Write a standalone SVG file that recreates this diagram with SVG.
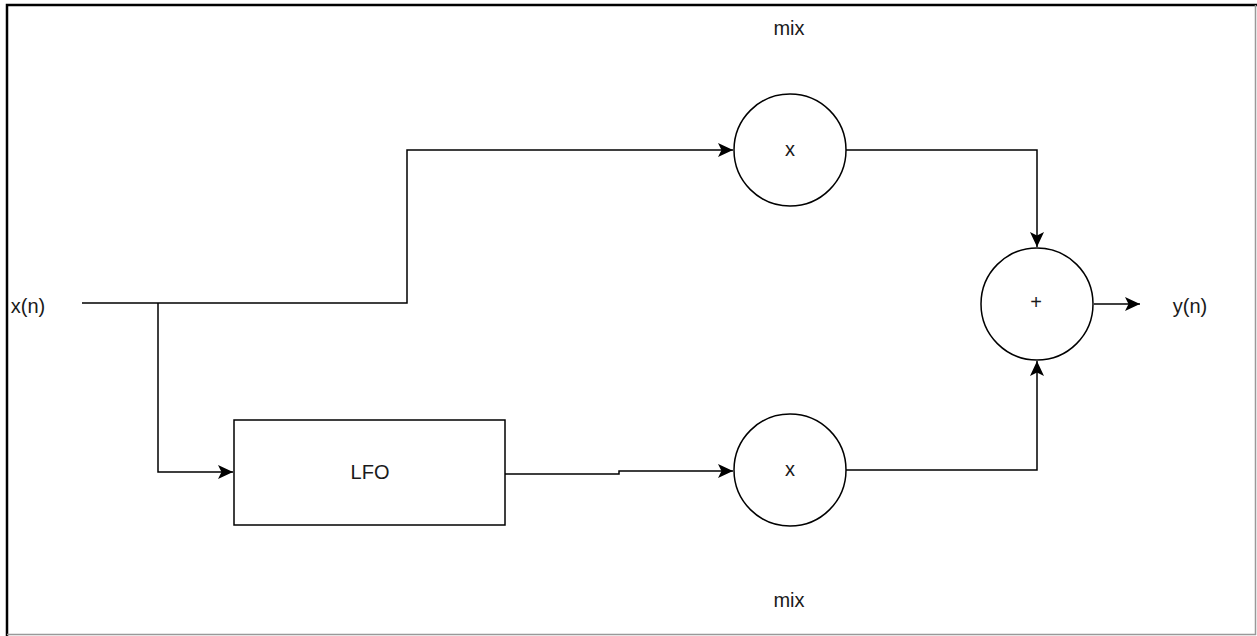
<svg xmlns="http://www.w3.org/2000/svg" width="1257" height="636" viewBox="0 0 1257 636">
<style>
.ln{fill:none;stroke:#000;stroke-width:1.5}
.sh{fill:#fff;stroke:#000;stroke-width:1.5}
.t{font-family:"Liberation Sans",Arial,sans-serif;font-size:20px;fill:#1a1a1a;text-anchor:middle;dominant-baseline:central}
</style>
<defs>
<marker id="ar" markerUnits="userSpaceOnUse" markerWidth="18" markerHeight="18" viewBox="0 0 18 18" refX="16" refY="9" orient="auto">
<path d="M1,2 L16,9 L1,16 L4.5,9 z" fill="#000"/>
</marker>
</defs>
<rect width="1257" height="636" fill="#fff"/>
<path d="M7,636 V5 H1257" fill="none" stroke="#000" stroke-width="2.5"/>
<path d="M1255.5,5 V634.5 H7" fill="none" stroke="#999" stroke-width="1.5"/>
<g id="connectors">
<path class="ln" d="M82,303 H407 V150 H733" marker-end="url(#ar)"/>
<path class="ln" d="M158,303 V472 H233" marker-end="url(#ar)"/>
<path class="ln" d="M505,474 H619 V471 H733" marker-end="url(#ar)"/>
<path class="ln" d="M846,150 H1037 V247" marker-end="url(#ar)"/>
<path class="ln" d="M846,470 H1037 V361" marker-end="url(#ar)"/>
<path class="ln" d="M1094,304 H1140" marker-end="url(#ar)"/>
</g>
<g id="mul1">
<circle class="sh" cx="790" cy="150" r="56"/>
<text class="t" x="790" y="149">x</text>
</g>
<g id="mul2">
<circle class="sh" cx="790" cy="470" r="56"/>
<text class="t" x="790" y="469">x</text>
</g>
<g id="sum">
<circle class="sh" cx="1037" cy="304" r="56"/>
<text class="t" x="1036" y="302">+</text>
</g>
<g id="lfo">
<rect class="sh" x="234" y="420" width="271" height="105"/>
<text class="t" x="370" y="472">LFO</text>
</g>
<g id="labels">
<text class="t" x="28" y="306">x(n)</text>
<text class="t" x="1190" y="306">y(n)</text>
<text class="t" x="789" y="28">mix</text>
<text class="t" x="789" y="600">mix</text>
</g>
</svg>
